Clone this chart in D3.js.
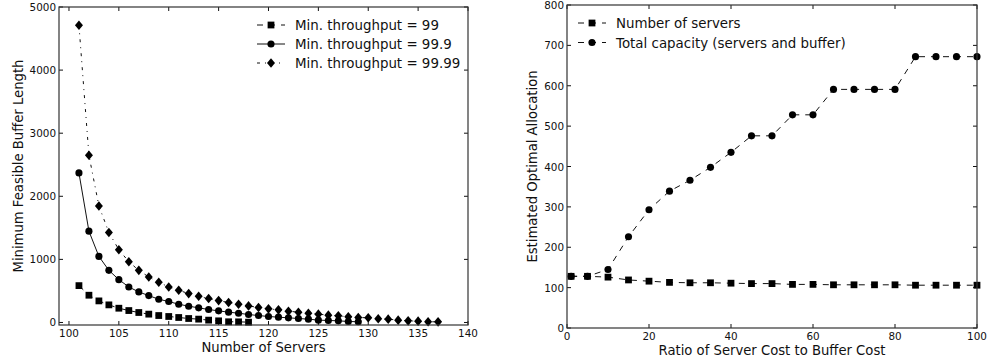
<!DOCTYPE html>
<html>
<head>
<meta charset="UTF-8">
<script src="https://d3js.org/d3.v7.min.js"></script>
<style>
  body { margin: 0; background: #fff; font-family: "DejaVu Sans", sans-serif; }
  svg text { fill: #111; }
</style>
</head>
<body>
<svg id="chart" width="988" height="362"></svg>
<script>
// left panel: minimum feasible buffer length vs number of servers
const thr99X  = [101,102,103,104,105,106,107,108,109,110,111,112,113,114,115,116,117,118];
const thr99Y  = [584,432,342,279,226,189,158,132,110,95,79,63,53,37,26,11,10,5];
const thr999X = [101,102,103,104,105,106,107,108,109,110,111,112,113,114,115,116,117,118,119,120,121,122,123,124,125,126,127,128,129];
const thr999Y = [2370,1447,1047,826,679,563,484,426,368,332,289,258,232,205,184,163,147,126,110,95,84,74,63,53,37,32,26,16,11];
const thr9999X = [101,102,103,104,105,106,107,108,109,110,111,112,113,114,115,116,117,118,119,120,121,122,123,124,125,126,127,128,129,130,131,132,133,134,135,136,137];
const thr9999Y = [4710,2650,1847,1426,1153,963,826,721,637,563,510,458,416,379,347,316,289,263,237,216,200,179,163,147,132,116,105,89,79,74,58,53,37,26,21,11,10];
const leftXTicks = [100,105,110,115,120,125,130,135,140];
const leftYTicks = [0,1000,2000,3000,4000,5000];

// right panel: estimated optimal allocation vs cost ratio
const ratios = [1,5,10,15,20,25,30,35,40,45,50,55,60,65,70,75,80,85,90,95,100];
const numServers = [128,128,126,119,116,113,112,112,111,110,110,108,108,107,107,107,107,106,106,106,106];
const totalCapacity = [128,128,145,226,293,339,366,398,435,476,476,528,528,591,591,591,591,672,672,672,672];
const rightXTicks = [0,20,40,60,80,100];
const rightYTicks = [0,100,200,300,400,500,600,700,800];

const svg = d3.select("#chart");
const ink = "#111";

function markerPath(kind) {
  if (kind === "square") return d3.symbol(d3.symbolSquare, 46)();
  if (kind === "circle") return d3.symbol(d3.symbolCircle, 40)();
  return "M0,-4.8L4,0L0,4.8L-4,0Z"; // diamond
}

function panel(cfg) {
  const x = d3.scaleLinear().domain(cfg.xDomain).range([cfg.x0, cfg.x1]);
  const y = d3.scaleLinear().domain(cfg.yDomain).range([cfg.y1, cfg.y0]);
  const g = svg.append("g");

  // ticks pointing inward on all four sides
  const tl = 4;
  cfg.xTicks.forEach(t => {
    g.append("line").attr("x1", x(t)).attr("x2", x(t)).attr("y1", cfg.y1).attr("y2", cfg.y1 - tl).attr("stroke", ink);
    g.append("line").attr("x1", x(t)).attr("x2", x(t)).attr("y1", cfg.y0).attr("y2", cfg.y0 + tl).attr("stroke", ink);
    g.append("text").attr("x", x(t)).attr("y", cfg.y1 + 12)
      .attr("text-anchor", "middle").style("font-size", "10.4px").text(t);
  });
  cfg.yTicks.forEach(t => {
    g.append("line").attr("x1", cfg.x0).attr("x2", cfg.x0 + tl).attr("y1", y(t)).attr("y2", y(t)).attr("stroke", ink);
    g.append("line").attr("x1", cfg.x1).attr("x2", cfg.x1 - tl).attr("y1", y(t)).attr("y2", y(t)).attr("stroke", ink);
    g.append("text").attr("x", cfg.x0 - 3).attr("y", y(t) + 4)
      .attr("text-anchor", "end").style("font-size", "10.4px").text(t);
  });

  cfg.series.forEach(s => {
    const pts = s.xs.map((v, i) => [v, s.ys[i]]);
    g.append("path").datum(pts)
      .attr("fill", "none").attr("stroke", ink).attr("stroke-width", 1)
      .attr("stroke-dasharray", s.dash)
      .attr("d", d3.line().x(d => x(d[0])).y(d => y(d[1])));
    g.selectAll(null).data(pts).enter().append("path")
      .attr("d", markerPath(s.marker))
      .attr("transform", d => `translate(${x(d[0])},${y(d[1])})`)
      .attr("fill", "#000");
  });

  // frame
  g.append("rect").attr("x", cfg.x0).attr("y", cfg.y0)
    .attr("width", cfg.x1 - cfg.x0).attr("height", cfg.y1 - cfg.y0)
    .attr("fill", "none").attr("stroke", "#333").attr("stroke-width", 1.2);

  // axis labels
  g.append("text").attr("x", (cfg.x0 + cfg.x1) / 2).attr("y", cfg.y1 + 26.5)
    .attr("text-anchor", "middle").style("font-size", "13.2px").text(cfg.xLabel);
  g.append("text")
    .attr("transform", `translate(${cfg.yLabelX},${(cfg.y0 + cfg.y1) / 2}) rotate(-90)`)
    .attr("text-anchor", "middle").style("font-size", "13.2px").text(cfg.yLabel);

  // legend
  cfg.series.forEach((s, i) => {
    const ly = cfg.legY + i * cfg.legStep;
    g.append("line").attr("x1", cfg.legX).attr("x2", cfg.legX + 28)
      .attr("y1", ly).attr("y2", ly).attr("stroke", ink)
      .attr("stroke-dasharray", s.dash);
    g.append("path").attr("d", markerPath(s.marker))
      .attr("transform", `translate(${cfg.legX + 14},${ly})`).attr("fill", "#000");
    g.append("text").attr("x", cfg.legX + 38).attr("y", ly + 5)
      .style("font-size", "13.4px").text(s.name);
  });
}

panel({
  x0: 59, x1: 468, y0: 7, y1: 325,
  xDomain: [99, 140], yDomain: [-40, 5000],
  xTicks: leftXTicks, yTicks: leftYTicks,
  xLabel: "Number of Servers", yLabel: "Minimum Feasible Buffer Length", yLabelX: 23,
  legX: 257, legY: 25, legStep: 19,
  series: [
    { name: "Min. throughput = 99", xs: thr99X, ys: thr99Y, marker: "square", dash: "6,6" },
    { name: "Min. throughput = 99.9", xs: thr999X, ys: thr999Y, marker: "circle", dash: null },
    { name: "Min. throughput = 99.99", xs: thr9999X, ys: thr9999Y, marker: "diamond", dash: "3,5,1,5" }
  ]
});

panel({
  x0: 567, x1: 977, y0: 5, y1: 328,
  xDomain: [0, 100], yDomain: [0, 800],
  xTicks: rightXTicks, yTicks: rightYTicks,
  xLabel: "Ratio of Server Cost to Buffer Cost", yLabel: "Estimated Optimal Allocation", yLabelX: 537,
  legX: 578, legY: 23, legStep: 19.5,
  series: [
    { name: "Number of servers", xs: ratios, ys: numServers, marker: "square", dash: "6,6" },
    { name: "Total capacity (servers and buffer)", xs: ratios, ys: totalCapacity, marker: "circle", dash: "6,6" }
  ]
});
</script>
</body>
</html>
